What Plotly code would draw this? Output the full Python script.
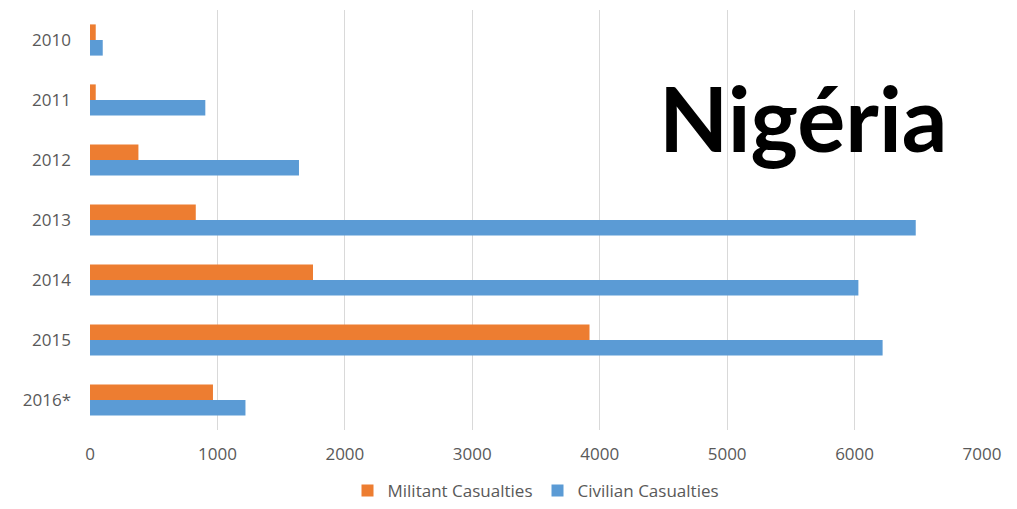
import plotly.graph_objects as go

years = ["2010", "2011", "2012", "2013", "2014", "2015", "2016*"]
militant = [45, 45, 380, 830, 1750, 3920, 965]
civilian = [100, 905, 1640, 6480, 6030, 6220, 1220]
x_ticks = [0, 1000, 2000, 3000, 4000, 5000, 6000, 7000]

fig = go.Figure()
fig.add_trace(go.Bar(y=years, x=militant, orientation="h", name="Militant Casualties",
                     marker=dict(color="#ED7D31", line=dict(width=0))))
fig.add_trace(go.Bar(y=years, x=civilian, orientation="h", name="Civilian Casualties",
                     marker=dict(color="#5B9BD5", line=dict(width=0))))

fig.update_layout(
    width=1017, height=509,
    margin=dict(l=90, r=35, t=10, b=79, autoexpand=False),
    paper_bgcolor="white", plot_bgcolor="white",
    barmode="group", bargap=0.48, bargroupgap=0,
    font=dict(family="Open Sans", size=16, color="#595959"),
    xaxis=dict(range=[0, 7000], tickvals=x_ticks, showgrid=True, gridcolor="#d9d9d9",
               gridwidth=1, zeroline=False, showline=False, ticks="",
               tickfont=dict(size=17, color="#595959"), ticklabelstandoff=12,
               automargin=False),
    yaxis=dict(autorange="reversed", type="category", showgrid=False, zeroline=False,
               showline=False, ticks="", ticklabelstandoff=18, automargin=False,
               tickfont=dict(size=17, color="#595959")),
    legend=dict(orientation="h", x=0.5, xanchor="center", yref="container",
                y=0.0, yanchor="bottom", tracegroupgap=0,
                font=dict(size=17, color="#595959"), itemwidth=30, traceorder="normal"),
    showlegend=True,
)
fig.add_annotation(text="<b>Nigéria</b>", xref="paper", yref="paper", x=0.963, y=0.746,
                   xanchor="right", yanchor="middle", showarrow=False,
                   font=dict(family="Lato", size=90, color="black"))

fig.write_html("out.html")
